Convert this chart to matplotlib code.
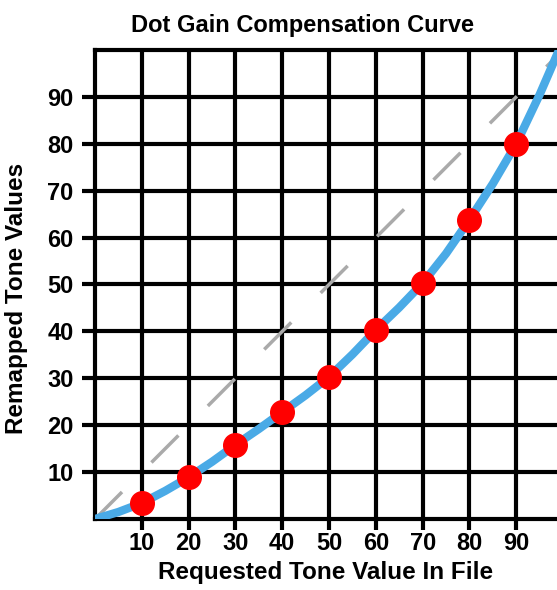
import matplotlib.pyplot as plt

# tone values
requested = [10, 20, 30, 40, 50, 60, 70, 80, 90]
remapped = [3.4, 8.9, 15.8, 22.8, 30.3, 40.3, 50.3, 63.8, 80.0]

# curve passes through origin and leaves the top right corner
curve_x = [0, 5, 10, 15, 20, 25, 30, 35, 40, 45, 50, 55, 60, 65, 70, 75, 80, 85, 90, 95, 100]
curve_y = [0, 1.5, 3.4, 6.0, 8.9, 12.2, 15.8, 19.2, 22.8, 26.4, 30.3, 35.1, 40.3, 45.1, 50.3, 56.6, 63.8, 71.5, 80.0, 90.5, 102.0]

ticks = [10, 20, 30, 40, 50, 60, 70, 80, 90]

plt.rcParams['font.family'] = ['Liberation Sans', 'DejaVu Sans']

fig = plt.figure(figsize=(5.57, 5.90), dpi=100)
ax = fig.add_axes([0.1706, 0.1203, 0.8294, 0.795])

ax.set_xlim(0, 98.7)
ax.set_ylim(0, 100)
ax.set_xticks(ticks)
ax.set_yticks(ticks)
ax.set_xticklabels([str(t) for t in ticks], fontsize=17, fontweight='bold')
ax.set_yticklabels([str(t) for t in ticks], fontsize=17, fontweight='bold')
ax.tick_params(axis='y', length=9.5, width=3, color='black', pad=6)
ax.tick_params(axis='x', length=8, width=3, color='black', pad=1)

ax.grid(True, color='black', linewidth=3)
ax.set_axisbelow(True)
for side in ['left', 'bottom', 'top']:
    ax.spines[side].set_linewidth(3)
ax.spines['right'].set_visible(False)

ax.plot([0, 100], [0, 100], color='#aaaaaa', linewidth=2.5, dashes=(11, 12), zorder=3)
ax.plot(curve_x, curve_y, color='#4aaae6', linewidth=6, solid_capstyle='round', zorder=4)
ax.plot(requested, remapped, 'o', color='#ff0000', markersize=17, zorder=5)

ax.set_title('Dot Gain Compensation Curve', fontsize=17, fontweight='bold', pad=13, x=0.45)
ax.set_xlabel('Requested Tone Value In File', fontsize=17.5, fontweight='bold', labelpad=5)
ax.set_ylabel('Remapped Tone Values', fontsize=17.5, fontweight='bold', labelpad=4)
ax.yaxis.set_label_coords(-0.145, 0.47)

fig.savefig('out.png', dpi=100)
